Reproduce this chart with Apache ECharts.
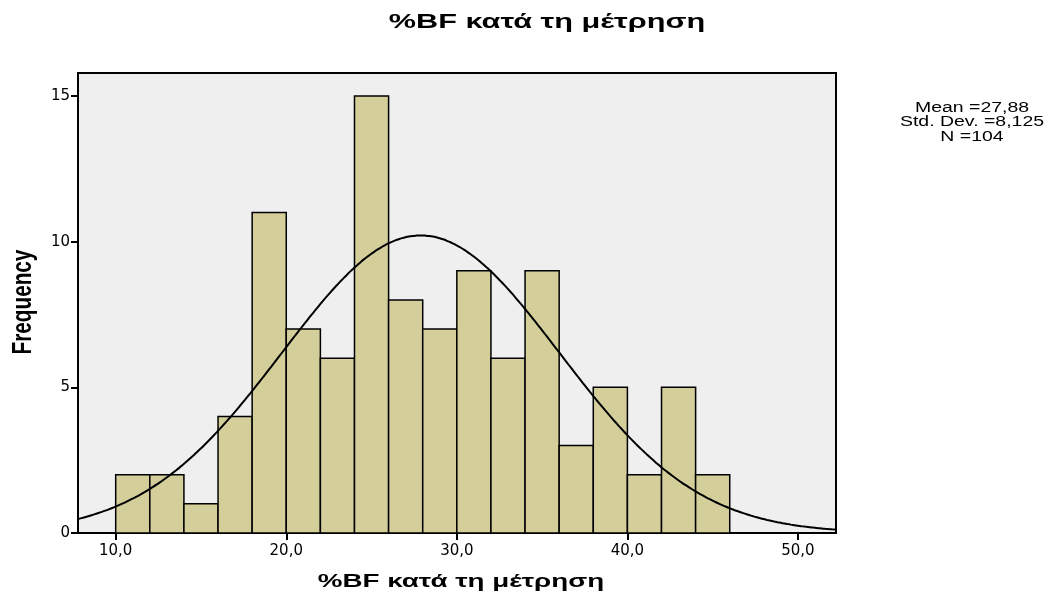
<!DOCTYPE html>
<html>
<head>
<meta charset="utf-8">
<script src="https://cdn.jsdelivr.net/npm/echarts@6/dist/echarts.min.js"></script>
<style>
  html, body { margin: 0; padding: 0; background: #ffffff; }
  #chart { width: 1051px; height: 599px; }
</style>
</head>
<body>
<div id="chart"></div>
<script>
// Histogram of %BF, bin width 2
const binStarts = [10, 12, 14, 16, 18, 20, 22, 24, 26, 28, 30, 32, 34, 36, 38, 40, 42, 44];
const binCounts = [2, 2, 1, 4, 11, 7, 6, 15, 8, 7, 9, 6, 9, 3, 5, 2, 5, 2];
const binWidth = 2;

// Summary statistics shown beside the plot
const mean = 27.88;
const stdDev = 8.125;
const n = 104;

const xTicks = [10, 20, 30, 40, 50];
const yTicks = [0, 5, 10, 15];

const titleText = '%BF κατά τη μέτρηση';
const xName = '%BF κατά τη μέτρηση';
const yName = 'Frequency';

// Normal curve scaled to the histogram (count per bin)
const curve = [];
for (let x = 7.79; x <= 52.23; x += 0.2) {
  const z = (x - mean) / stdDev;
  curve.push([x, n * binWidth * Math.exp(-0.5 * z * z) / (stdDev * Math.sqrt(2 * Math.PI))]);
}

const bars = binStarts.map((s, i) => [s, s + binWidth, binCounts[i]]);
const fmt = v => v.toFixed(1).replace('.', ',');
const statsText = 'Mean =' + mean.toFixed(2).replace('.', ',') +
  '\nStd. Dev. =' + stdDev.toFixed(3).replace('.', ',') + '\nN =' + n;

const boldFont = { fontFamily: 'Liberation Sans', fontWeight: 'bold', fill: '#000', align: 'center', verticalAlign: 'middle' };

const chart = echarts.init(document.getElementById('chart'));
chart.setOption({
  animation: false,
  backgroundColor: '#ffffff',
  grid: { left: 78, top: 73, right: 215, bottom: 66, show: true, backgroundColor: '#efefef', borderColor: '#000', borderWidth: 2 },
  xAxis: {
    type: 'value', min: 7.79, max: 52.23,
    axisLine: { show: true, lineStyle: { color: '#000', width: 2 } },
    axisTick: { show: true, customValues: xTicks, length: 7, lineStyle: { color: '#000', width: 2 } },
    axisLabel: { customValues: xTicks, formatter: fmt, fontFamily: 'DejaVu Sans', fontSize: 15, color: '#000', margin: 11 },
    splitLine: { show: false }
  },
  yAxis: {
    type: 'value', min: 0, max: 15.79,
    axisLine: { show: true, lineStyle: { color: '#000', width: 2 } },
    axisTick: { show: true, customValues: yTicks, length: 7, lineStyle: { color: '#000', width: 2 } },
    axisLabel: { customValues: yTicks, fontFamily: 'DejaVu Sans', fontSize: 15, color: '#000', margin: 8 },
    splitLine: { show: false }
  },
  graphic: [
    { type: 'text', x: 547, y: 22, scaleX: 1.46, style: Object.assign({ text: titleText, fontSize: 21 }, boldFont) },
    { type: 'text', x: 461, y: 582, scaleX: 1.5, style: Object.assign({ text: xName, fontSize: 18.5 }, boldFont) },
    { type: 'text', x: 23, y: 302, rotation: Math.PI / 2, scaleX: 0.74, style: Object.assign({ text: yName, fontSize: 28 }, boldFont) },
    {
      type: 'text', x: 972, y: 122.5, scaleX: 1.39,
      style: { text: statsText, align: 'center', verticalAlign: 'middle', fontFamily: 'Liberation Sans', fontSize: 14, lineHeight: 14.5, fill: '#000' }
    }
  ],
  series: [{
    type: 'custom',
    data: bars,
    encode: { x: [0, 1], y: 2 },
    renderItem: (params, api) => {
      const p0 = api.coord([api.value(0), 0]);
      const p1 = api.coord([api.value(1), api.value(2)]);
      return {
        type: 'rect',
        shape: { x: p0[0], y: p1[1], width: p1[0] - p0[0], height: p0[1] - p1[1] },
        style: { fill: '#d3ce9a', stroke: '#000', lineWidth: 1.5 }
      };
    }
  }, {
    type: 'line', data: curve, showSymbol: false, smooth: true,
    lineStyle: { color: '#000', width: 2 }, z: 5
  }]
});
</script>
</body>
</html>
